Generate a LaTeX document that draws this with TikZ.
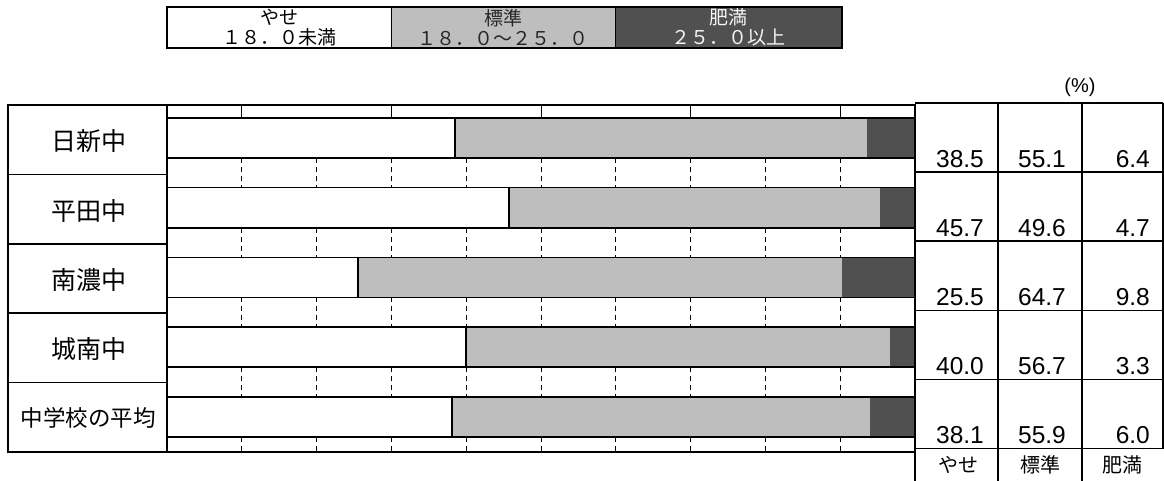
\documentclass[tikz,border=0pt]{standalone}
\usepackage{fontspec}
\setmainfont{Liberation Sans}
\newfontfamily\jp{Noto Sans CJK JP}
\definecolor{lightbar}{HTML}{BEBEBE}
\definecolor{darkbar}{HTML}{505050}
\begin{document}
\begin{tikzpicture}[x=1pt,y=-1pt,
  frame/.style={draw=black,line width=1.6pt},
  thin/.style={draw=black,line width=0.9pt},
  grid/.style={draw=black,line width=0.8pt,dash pattern=on 5pt off 4pt},
  rowlab/.style={font=\jp\fontsize{25}{25}\selectfont,anchor=center,inner sep=0pt},
  num/.style={font=\fontsize{24.5}{24.5}\selectfont,anchor=base east,inner sep=0pt},
  leg/.style={font=\jp\fontsize{19}{19.5}\selectfont,align=center,inner sep=0pt},
  botlab/.style={font=\jp\fontsize{20}{20}\selectfont,anchor=center,inner sep=0pt}]
\useasboundingbox (0,0) rectangle (1164,481);
% legend
\fill[white] (167,7) rectangle (391,48);
\fill[lightbar] (391,7) rectangle (615,48);
\fill[darkbar] (615,7) rectangle (842,48);
\draw[frame] (167,7) rectangle (842,48);
\draw[thin] (391,7) -- (391,48);
\draw[thin] (615,7) -- (615,48);
\node[leg] (l1) at (279,27.5) {やせ\\１８．０未満};
\node[leg,text=black!85] (l2) at (503,27.5) {標準\\１８．０～２５．０};
\node[leg,text=white!92!gray] (l3) at (728,27.5) {肥満\\２５．０以上};
% percent
\node[font=\fontsize{20}{20}\selectfont,inner sep=0pt] (pct) at (1080,87) {(\%)};
% bars
\foreach \i/\a/\b in {0/455.0/867.1,1/508.8/879.8,2/357.7/841.7,3/466.2/890.3,4/452.0/870.1}{
  \pgfmathsetmacro\yt{118+69.7*\i}
  \pgfmathsetmacro\yb{\yt+40}
  \fill[white] (167,\yt) rectangle (\a,\yb);
  \fill[lightbar] (\a,\yt) rectangle (\b,\yb);
  \fill[darkbar] (\b,\yt) rectangle (915,\yb);
  \draw[frame] (167,\yt) -- (915,\yt);
  \draw[frame] (167,\yb) -- (915,\yb);
  \draw[frame] (\a,\yt) -- (\a,\yb);
}
% gridlines in gaps
\foreach \i in {0,1,2,3}{
  \pgfmathsetmacro\gt{158+69.7*\i}
  \pgfmathsetmacro\gb{\gt+29.7}
  \foreach \k in {1,...,9}{
    \draw[grid] (167+74.8*\k,\gt) -- (167+74.8*\k,\gb);
  }
}
\foreach \k in {1,...,9}{
  \draw[grid] (167+74.8*\k,437) -- (167+74.8*\k,452);
}
\foreach \k in {1,3,5,7,9}{
  \draw[thin] (167+74.8*\k,105) -- (167+74.8*\k,118);
}
% chart frame
\draw[frame] (8,105) rectangle (915,452);
\draw[frame] (167,105) -- (167,452);
\foreach \i in {1,2,3,4}{
  \draw[frame] (8,105+69.4*\i) -- (167,105+69.4*\i);
}
% row labels
\node[rowlab] (r1) at (89,141) {日新中};
\node[rowlab] (r2) at (89,210.5) {平田中};
\node[rowlab] (r3) at (89,280) {南濃中};
\node[rowlab] (r4) at (89,349) {城南中};
\node[rowlab,font=\jp\fontsize{22.5}{22.5}\selectfont] (r5) at (88,418) {中学校の平均};
% table
\draw[frame] (915,103) -- (1163,103);
\foreach \i in {1,...,5}{
  \draw[frame] (915,103+69.1*\i) -- (1163,103+69.1*\i);
}
\draw[frame] (998,103) -- (998,481);
\draw[frame] (1082,103) -- (1082,481);
\draw[frame] (1163,103) -- (1163,448.5);
\draw[frame] (915,448.5) -- (915,481);
\foreach \i/\x/\y/\z in {1/38.5/55.1/6.4,2/45.7/49.6/4.7,3/25.5/64.7/9.8,4/40.0/56.7/3.3,5/38.1/55.9/6.0}{
  \pgfmathsetmacro\yy{103+69.1*\i-5}
  \node[num] (ta\i) at (984,\yy) {\x};
  \node[num] (tb\i) at (1066,\yy) {\y};
  \node[num] (tc\i) at (1150,\yy) {\z};
}
\node[botlab] (b1) at (958,465) {やせ};
\node[botlab] (b2) at (1040,465) {標準};
\node[botlab] (b3) at (1122,465) {肥満};
\end{tikzpicture}
\end{document}
